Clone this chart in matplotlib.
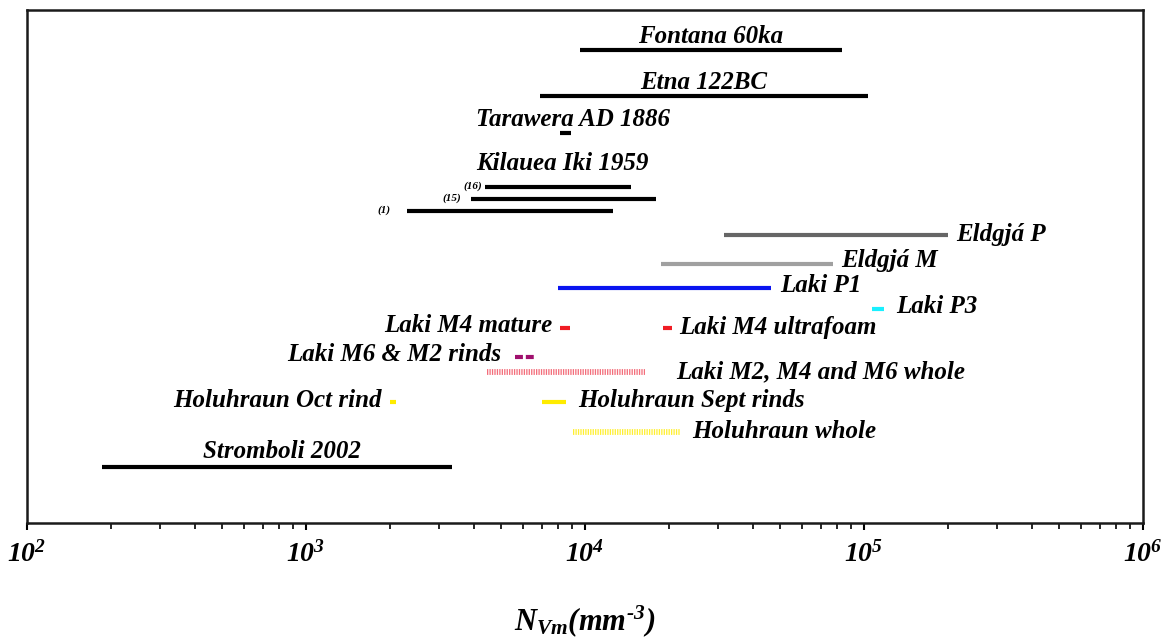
import matplotlib
matplotlib.use('Agg')
import matplotlib.pyplot as plt
from matplotlib import rcParams

rcParams['font.family'] = ['Liberation Serif', 'DejaVu Serif']
rcParams['font.weight'] = 'bold'
rcParams['font.style'] = 'italic'
rcParams['mathtext.fontset'] = 'custom'
rcParams['mathtext.rm'] = 'Liberation Serif:italic:bold'
rcParams['mathtext.it'] = 'Liberation Serif:italic:bold'
rcParams['mathtext.bf'] = 'Liberation Serif:italic:bold'

# --- data: N_Vm ranges (mm^-3) ---
names = ['Fontana 60ka', 'Etna 122BC', 'Tarawera AD 1886',
         'Kilauea (16)', 'Kilauea (15)', 'Kilauea (1)',
         'Eldgjá P', 'Eldgjá M', 'Laki P1', 'Laki P3',
         'Laki M4 mature', 'Laki M4 ultrafoam', 'Laki M6 & M2 rinds',
         'Laki M2, M4 and M6 whole', 'Holuhraun Oct rind',
         'Holuhraun Sept rinds', 'Holuhraun whole', 'Stromboli 2002']
lo = [9600, 6900, 8130, 4380, 3900, 2300, 31500, 18700, 8000, 107000,
      8130, 19000, 5610, 4450, 2000, 7010, 9060, 186]
hi = [83400, 103300, 8910, 14600, 17960, 12600, 200000, 77400, 46400, 118000,
      8850, 20500, 6570, 16400, 2100, 8550, 21900, 3340]
rows = [7.8, 16.8, 24.0, 34.5, 36.8, 39.2, 43.9, 49.5, 54.2, 58.3,
        62.0, 62.0, 67.6, 70.6, 76.4, 76.4, 82.3, 89.1]

C_BLACK = '#000000'
C_DGRAY = '#666666'
C_LGRAY = '#a0a0a0'
C_BLUE = '#0a14f0'
C_CYAN = '#19f0ff'
C_RED = '#f01c24'
C_PURPLE = '#a0106e'
C_PINK = '#f04a5a'
C_YELLOW = '#ffec00'

colors = [C_BLACK, C_BLACK, C_BLACK, C_BLACK, C_BLACK, C_BLACK,
          C_DGRAY, C_LGRAY, C_BLUE, C_CYAN, C_RED, C_RED, C_PURPLE,
          C_PINK, C_YELLOW, C_YELLOW, C_YELLOW, C_BLACK]
styles = ['solid'] * 12 + ['m6m2', 'hatch', 'solid', 'solid', 'hatch', 'solid']

# label placement: (text, anchor end, dx px, dy px, size)
FS = 18
labels = {
    'Fontana 60ka': ('Fontana 60ka', 'top', 0, 14, FS),
    'Etna 122BC': ('Etna 122BC', 'top', 0, 14, FS),
    'Tarawera AD 1886': ('Tarawera AD 1886', 'top', 8, 14, FS),
    'Kilauea (16)': ('Kilauea Iki 1959', 'top', 4, 23, FS),
    'Stromboli 2002': ('Stromboli 2002', 'top', 5, 16, FS),
    'Eldgjá P': ('Eldgjá P', 'right', 8, 1, FS),
    'Eldgjá M': ('Eldgjá M', 'right', 8, 3, FS),
    'Laki P1': ('Laki P1', 'right', 9, 3, FS),
    'Laki P3': ('Laki P3', 'right', 12, 3, FS),
    'Laki M4 ultrafoam': ('Laki M4 ultrafoam', 'right', 7, 1, FS),
    'Laki M2, M4 and M6 whole': ('Laki M2, M4 and M6 whole', 'right', 31, 0, FS),
    'Holuhraun Sept rinds': ('Holuhraun Sept rinds', 'right', 12, 1, FS),
    'Holuhraun whole': ('Holuhraun whole', 'right', 12, 1, FS),
    'Laki M4 mature': ('Laki M4 mature', 'left', 7, 3, FS),
    'Laki M6 & M2 rinds': ('Laki M6 & M2 rinds', 'left', 14, 2, FS),
    'Holuhraun Oct rind': ('Holuhraun Oct rind', 'left', 8, 1, FS),
    'Kilauea (15)': ('(15)', 'left', 10, 1, 8),
    'Kilauea (1)': ('(1)', 'left', 16, 1, 8),
}
labels['Kilauea (16) small'] = ('(16)', 'left', 3, 1, 8)

fig = plt.figure(figsize=(11.71, 6.38), dpi=100)
ax = fig.add_axes([27 / 1171, 115 / 638, 1116 / 1171, 513 / 638])
px = 72 / 100  # points per pixel

for n, a, b, y, c, s in zip(names, lo, hi, rows, colors, styles):
    if s == 'hatch':
        ax.plot([a, b], [y, y], color=c, lw=4.2, solid_capstyle='butt',
                linestyle=(0, (0.22, 0.2)), alpha=0.8)
    elif s == 'm6m2':
        ax.plot([a, b], [y, y], color=c, lw=3.0, solid_capstyle='butt',
                dash_capstyle='butt', linestyle=(0, (1.9, 0.7)))
    else:
        ax.plot([a, b], [y, y], color=c, lw=3.0, solid_capstyle='butt')

    keys = [n] + ([n + ' small'] if n + ' small' in labels else [])
    for k in keys:
        if k not in labels:
            continue
        txt, where, dx, dy, fs = labels[k]
        if where == 'top':
            xy = ((a * b) ** 0.5, y)
            ax.annotate(txt, xy, xytext=(dx * px, dy * px), textcoords='offset points',
                        ha='center', va='center', fontsize=fs)
        elif where == 'right':
            ax.annotate(txt, (b, y), xytext=(dx * px, dy * px), textcoords='offset points',
                        ha='left', va='center', fontsize=fs)
        else:
            ax.annotate(txt, (a, y), xytext=(-dx * px, dy * px), textcoords='offset points',
                        ha='right', va='center', fontsize=fs)

ax.set_xscale('log')
ax.set_xlim(1e2, 1e6)
ax.set_ylim(100, 0)
ax.set_yticks([])
ax.set_xticks([1e2, 1e3, 1e4, 1e5, 1e6])
ax.set_xticklabels([r'$10^{2}$', r'$10^{3}$', r'$10^{4}$', r'$10^{5}$', r'$10^{6}$'],
                   fontsize=20)
ax.tick_params(axis='x', which='major', direction='out', length=5, width=1.5, pad=8)
ax.tick_params(axis='x', which='minor', direction='out', length=4, width=1.2)
for sp in ax.spines.values():
    sp.set_linewidth(1.8)
    sp.set_color('#1a1a1a')

ax.set_xlabel(r'$N_{Vm}(mm^{\text{-}3})$', fontsize=22, labelpad=26)

fig.savefig('out.png', dpi=100)
